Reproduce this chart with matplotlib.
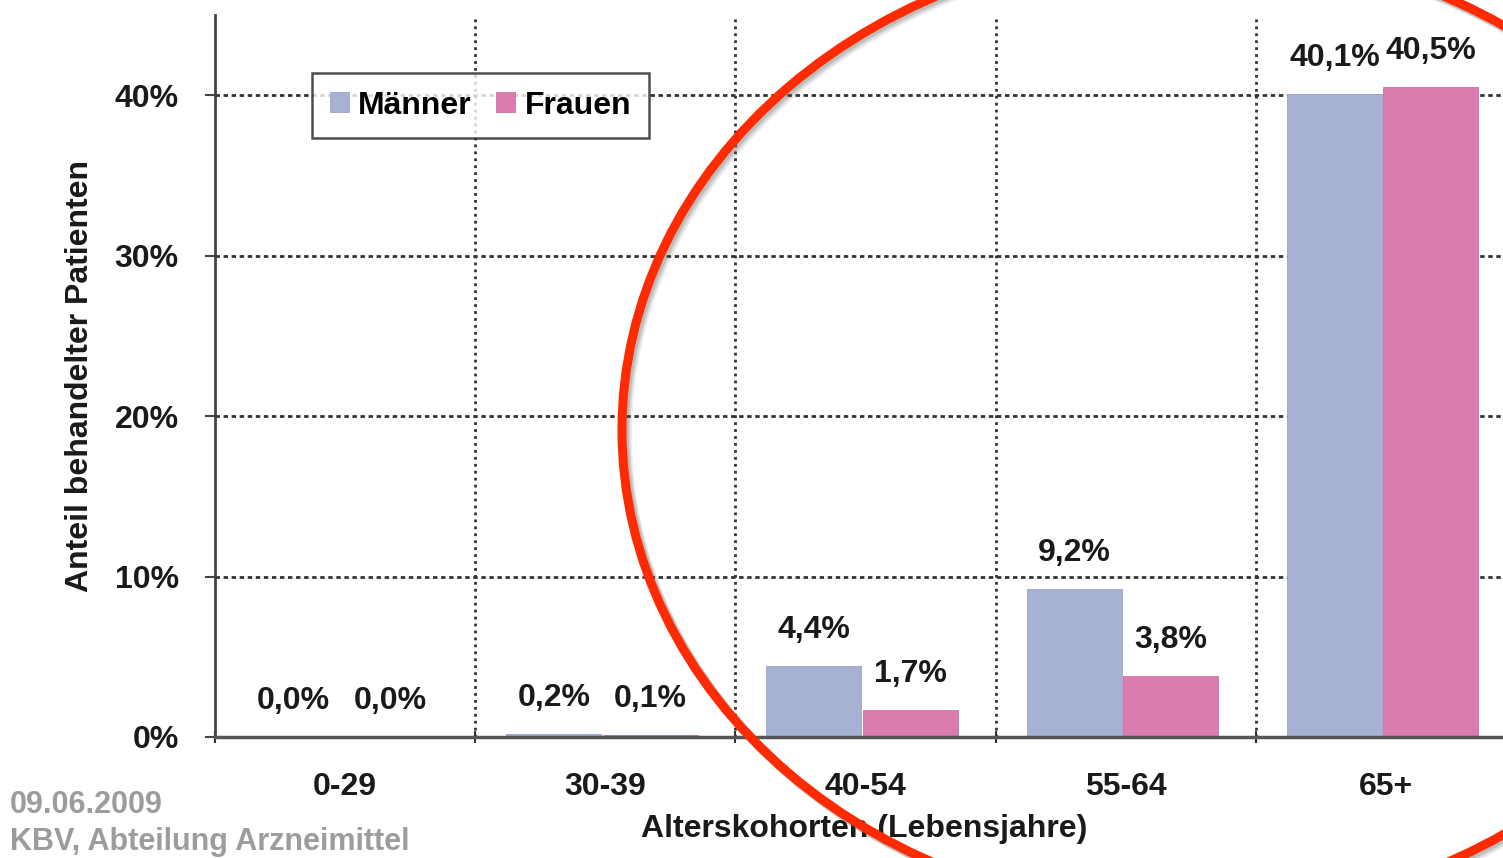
import matplotlib.pyplot as plt
import numpy as np
from matplotlib.patches import Ellipse
from matplotlib.ticker import FuncFormatter

# Anteil behandelter Patienten je Alterskohorte
kohorten = ['0-29', '30-39', '40-54', '55-64', '65+']
maenner = [0.0, 0.2, 4.4, 9.2, 40.1]
frauen = [0.0, 0.1, 1.7, 3.8, 40.5]

plt.rcParams['font.family'] = ['Liberation Sans', 'DejaVu Sans']

W, H = 1503, 858
fig = plt.figure(figsize=(W / 100, H / 100), dpi=100)
ax = fig.add_axes([215 / W, 1 - 737 / H, 1301 / W, (737 - 15) / H])

x = np.arange(len(kohorten))
barWidth = 0.365
c_m = '#a6b1d3'
c_f = '#db7cae'
fs = 23

b1 = ax.bar(x - 0.198, maenner, width=barWidth, color=c_m, label='Männer',
            edgecolor='#9aa4c8', linewidth=0.6, zorder=3)
b2 = ax.bar(x + 0.172, frauen, width=barWidth, color=c_f, label='Frauen',
            edgecolor='#cf6fa2', linewidth=0.6, zorder=3)

def fmt(v):
    return ('%.1f%%' % v).replace('.', ',')

for xs, vals in ((x - 0.198, maenner), (x + 0.172, frauen)):
    for xi, v in zip(xs, vals):
        ax.annotate(fmt(v), (xi, v), xytext=(0, 26), textcoords='offset points',
                    ha='center', va='center', fontsize=fs, fontweight='bold',
                    color='#1a1a1a', zorder=5)

ax.set_xlim(-0.5, 4.5)
ax.set_ylim(0, 45)

# dotted grid: horizontal at 10% steps, vertical between cohorts
for yv in [10, 20, 30, 40]:
    ax.axhline(yv, color='#333333', lw=2, ls=(0, (1.6, 1.3)), zorder=1)
for xv in [0.5, 1.5, 2.5, 3.5]:
    ax.axvline(xv, color='#333333', lw=2, ls=(0, (1.0, 1.5)), zorder=1)

ax.set_yticks([0, 10, 20, 30, 40])
ax.yaxis.set_major_formatter(FuncFormatter(lambda v, p: '%d%%' % v))
ax.set_xticks(x)
ax.set_xticklabels(kohorten)
ax.set_xticks([-0.5, 0.5, 1.5, 2.5, 3.5], minor=True)
ax.tick_params(axis='x', which='major', length=0, pad=25, labelsize=fs)
ax.tick_params(axis='x', which='minor', length=9, width=1.5, direction='inout',
               color='#333333')
ax.tick_params(axis='y', length=7, width=1.5, color='#444444', pad=19,
               labelsize=fs)
for lab in ax.get_xticklabels() + ax.get_yticklabels():
    lab.set_fontweight('bold')
    lab.set_color('#1a1a1a')

for s in ['top', 'right']:
    ax.spines[s].set_visible(False)
ax.spines['left'].set_color('#444444')
ax.spines['left'].set_linewidth(2)
ax.spines['bottom'].set_color('#555555')
ax.spines['bottom'].set_linewidth(2.5)
ax.spines['bottom'].set_zorder(4)

ax.set_ylabel('Anteil behandelter Patienten', fontsize=fs, fontweight='bold',
              color='#1a1a1a')
ax.yaxis.set_label_coords(-0.092, 0.50)
ax.set_xlabel('Alterskohorten (Lebensjahre)', fontsize=fs, fontweight='bold',
              color='#1a1a1a')
ax.xaxis.set_label_coords(0.499, -0.106)

leg = ax.legend(loc='upper left', bbox_to_anchor=(312 / W, 1 - 73 / H),
                bbox_transform=fig.transFigure, borderaxespad=0, ncol=2,
                fancybox=False, handlelength=0.6, handleheight=0.6,
                handletextpad=0.3, columnspacing=0.75, borderpad=0.55,
                prop={'size': fs, 'weight': 'bold'})
leg.get_frame().set_edgecolor('#222222')
leg.get_frame().set_linewidth(1.8)
leg.set_zorder(6)

fig.text(10 / W, 1 - 805 / H, '09.06.2009', fontsize=22, fontweight='bold',
         color='#9c9c9c', va='center')
fig.text(10 / W, 1 - 842 / H, 'KBV, Abteilung Arzneimittel', fontsize=22,
         fontweight='bold', color='#9c9c9c', va='center')

# red marker ellipse with a soft shadow
cx, cy, a, b = 1190, 430, 568, 485
for off, al in ((5, 0.10), (3.5, 0.15), (2, 0.2)):
    fig.add_artist(Ellipse(((cx + off) / W, 1 - (cy + off) / H), 2 * a / W,
                           2 * b / H, transform=fig.transFigure, fill=False,
                           edgecolor='#555555', lw=7, alpha=al, zorder=9))
fig.add_artist(Ellipse((cx / W, 1 - cy / H), 2 * a / W, 2 * b / H,
                       transform=fig.transFigure, fill=False,
                       edgecolor='#ff2a00', lw=6.5, zorder=10))

plt.savefig('out.png', dpi=100)
